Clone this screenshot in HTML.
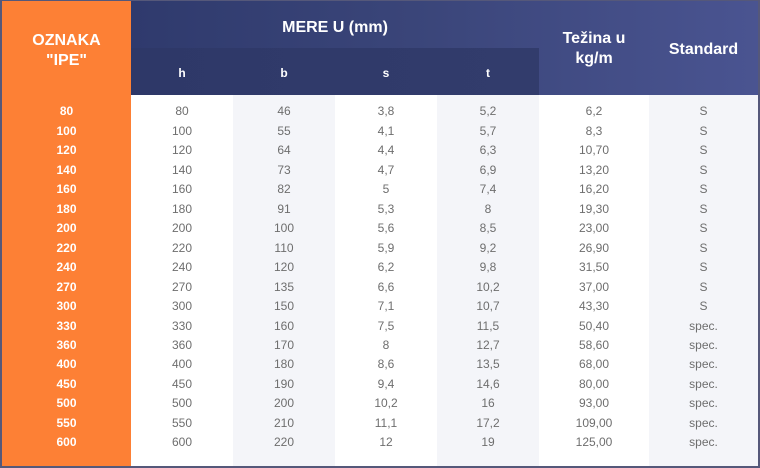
<!DOCTYPE html>
<html><head><meta charset="utf-8">
<style>
*{margin:0;padding:0;box-sizing:border-box}
html,body{width:760px;height:468px;overflow:hidden;background:#fff}
#w{position:absolute;left:0;top:0;width:760px;height:468px;border:2px solid #55587a;border-top-width:1px;background:#fff;font-family:"Liberation Sans",sans-serif}
.a{position:absolute}
.hd{left:129px;top:0;width:627px;height:94px;background:linear-gradient(90deg,#2f3a6d 0%,#3a4579 45%,#4a5491 100%)}
.sub{left:129px;top:47px;width:408px;height:47px;background:linear-gradient(90deg,#2e3868 0%,#323c6c 100%)}
.or{left:0;top:0;width:129px;height:465px;background:#fd8035}
.sh{background:#f4f5f9}
.ht{color:#fff;font-weight:bold;text-align:center;font-size:16px;line-height:20px}
.st{color:#fff;font-weight:bold;font-size:12px;text-align:center;top:63px;line-height:18px}
.row{position:absolute;left:0;width:756px;height:19.47px;line-height:19.47px;font-size:12px;color:#6e6e6e;font-family:"Liberation Sans",sans-serif}
.row span{position:absolute;top:0;text-align:center}
.row span.o{color:#fff;font-weight:bold;left:0;width:129px}
</style></head><body>
<div id="w">
<div class="a or"></div>
<div class="a hd"></div>
<div class="a sub"></div>
<div class="a sh" style="left:231px;top:94px;width:102px;height:371px"></div>
<div class="a sh" style="left:435px;top:94px;width:102px;height:371px"></div>
<div class="a sh" style="left:647px;top:94px;width:109px;height:371px"></div>

<div class="a ht" style="left:0;top:30px;width:129px">OZNAKA<br>"IPE"</div>
<div class="a ht" style="left:129px;top:17px;width:408px">MERE U (mm)</div>
<div class="a ht" style="left:537px;top:28px;width:110px">Težina u<br>kg/m</div>
<div class="a ht" style="left:647px;top:39px;width:109px">Standard</div>
<div class="a st" style="left:129px;width:102px">h</div>
<div class="a st" style="left:231px;width:102px">b</div>
<div class="a st" style="left:333px;width:102px">s</div>
<div class="a st" style="left:435px;width:102px">t</div>

<div class="row" style="top:101.3px"><span class="o">80</span><span style="left:129px;width:102px">80</span><span style="left:231px;width:102px">46</span><span style="left:333px;width:102px">3,8</span><span style="left:435px;width:102px">5,2</span><span style="left:537px;width:110px">6,2</span><span style="left:647px;width:109px">S</span></div>
<div class="row" style="top:120.8px"><span class="o">100</span><span style="left:129px;width:102px">100</span><span style="left:231px;width:102px">55</span><span style="left:333px;width:102px">4,1</span><span style="left:435px;width:102px">5,7</span><span style="left:537px;width:110px">8,3</span><span style="left:647px;width:109px">S</span></div>
<div class="row" style="top:140.2px"><span class="o">120</span><span style="left:129px;width:102px">120</span><span style="left:231px;width:102px">64</span><span style="left:333px;width:102px">4,4</span><span style="left:435px;width:102px">6,3</span><span style="left:537px;width:110px">10,70</span><span style="left:647px;width:109px">S</span></div>
<div class="row" style="top:159.7px"><span class="o">140</span><span style="left:129px;width:102px">140</span><span style="left:231px;width:102px">73</span><span style="left:333px;width:102px">4,7</span><span style="left:435px;width:102px">6,9</span><span style="left:537px;width:110px">13,20</span><span style="left:647px;width:109px">S</span></div>
<div class="row" style="top:179.2px"><span class="o">160</span><span style="left:129px;width:102px">160</span><span style="left:231px;width:102px">82</span><span style="left:333px;width:102px">5</span><span style="left:435px;width:102px">7,4</span><span style="left:537px;width:110px">16,20</span><span style="left:647px;width:109px">S</span></div>
<div class="row" style="top:198.6px"><span class="o">180</span><span style="left:129px;width:102px">180</span><span style="left:231px;width:102px">91</span><span style="left:333px;width:102px">5,3</span><span style="left:435px;width:102px">8</span><span style="left:537px;width:110px">19,30</span><span style="left:647px;width:109px">S</span></div>
<div class="row" style="top:218.1px"><span class="o">200</span><span style="left:129px;width:102px">200</span><span style="left:231px;width:102px">100</span><span style="left:333px;width:102px">5,6</span><span style="left:435px;width:102px">8,5</span><span style="left:537px;width:110px">23,00</span><span style="left:647px;width:109px">S</span></div>
<div class="row" style="top:237.6px"><span class="o">220</span><span style="left:129px;width:102px">220</span><span style="left:231px;width:102px">110</span><span style="left:333px;width:102px">5,9</span><span style="left:435px;width:102px">9,2</span><span style="left:537px;width:110px">26,90</span><span style="left:647px;width:109px">S</span></div>
<div class="row" style="top:257.1px"><span class="o">240</span><span style="left:129px;width:102px">240</span><span style="left:231px;width:102px">120</span><span style="left:333px;width:102px">6,2</span><span style="left:435px;width:102px">9,8</span><span style="left:537px;width:110px">31,50</span><span style="left:647px;width:109px">S</span></div>
<div class="row" style="top:276.5px"><span class="o">270</span><span style="left:129px;width:102px">270</span><span style="left:231px;width:102px">135</span><span style="left:333px;width:102px">6,6</span><span style="left:435px;width:102px">10,2</span><span style="left:537px;width:110px">37,00</span><span style="left:647px;width:109px">S</span></div>
<div class="row" style="top:296.0px"><span class="o">300</span><span style="left:129px;width:102px">300</span><span style="left:231px;width:102px">150</span><span style="left:333px;width:102px">7,1</span><span style="left:435px;width:102px">10,7</span><span style="left:537px;width:110px">43,30</span><span style="left:647px;width:109px">S</span></div>
<div class="row" style="top:315.5px"><span class="o">330</span><span style="left:129px;width:102px">330</span><span style="left:231px;width:102px">160</span><span style="left:333px;width:102px">7,5</span><span style="left:435px;width:102px">11,5</span><span style="left:537px;width:110px">50,40</span><span style="left:647px;width:109px">spec.</span></div>
<div class="row" style="top:334.9px"><span class="o">360</span><span style="left:129px;width:102px">360</span><span style="left:231px;width:102px">170</span><span style="left:333px;width:102px">8</span><span style="left:435px;width:102px">12,7</span><span style="left:537px;width:110px">58,60</span><span style="left:647px;width:109px">spec.</span></div>
<div class="row" style="top:354.4px"><span class="o">400</span><span style="left:129px;width:102px">400</span><span style="left:231px;width:102px">180</span><span style="left:333px;width:102px">8,6</span><span style="left:435px;width:102px">13,5</span><span style="left:537px;width:110px">68,00</span><span style="left:647px;width:109px">spec.</span></div>
<div class="row" style="top:373.9px"><span class="o">450</span><span style="left:129px;width:102px">450</span><span style="left:231px;width:102px">190</span><span style="left:333px;width:102px">9,4</span><span style="left:435px;width:102px">14,6</span><span style="left:537px;width:110px">80,00</span><span style="left:647px;width:109px">spec.</span></div>
<div class="row" style="top:393.3px"><span class="o">500</span><span style="left:129px;width:102px">500</span><span style="left:231px;width:102px">200</span><span style="left:333px;width:102px">10,2</span><span style="left:435px;width:102px">16</span><span style="left:537px;width:110px">93,00</span><span style="left:647px;width:109px">spec.</span></div>
<div class="row" style="top:412.8px"><span class="o">550</span><span style="left:129px;width:102px">550</span><span style="left:231px;width:102px">210</span><span style="left:333px;width:102px">11,1</span><span style="left:435px;width:102px">17,2</span><span style="left:537px;width:110px">109,00</span><span style="left:647px;width:109px">spec.</span></div>
<div class="row" style="top:432.3px"><span class="o">600</span><span style="left:129px;width:102px">600</span><span style="left:231px;width:102px">220</span><span style="left:333px;width:102px">12</span><span style="left:435px;width:102px">19</span><span style="left:537px;width:110px">125,00</span><span style="left:647px;width:109px">spec.</span></div>
</div>
</body></html>
